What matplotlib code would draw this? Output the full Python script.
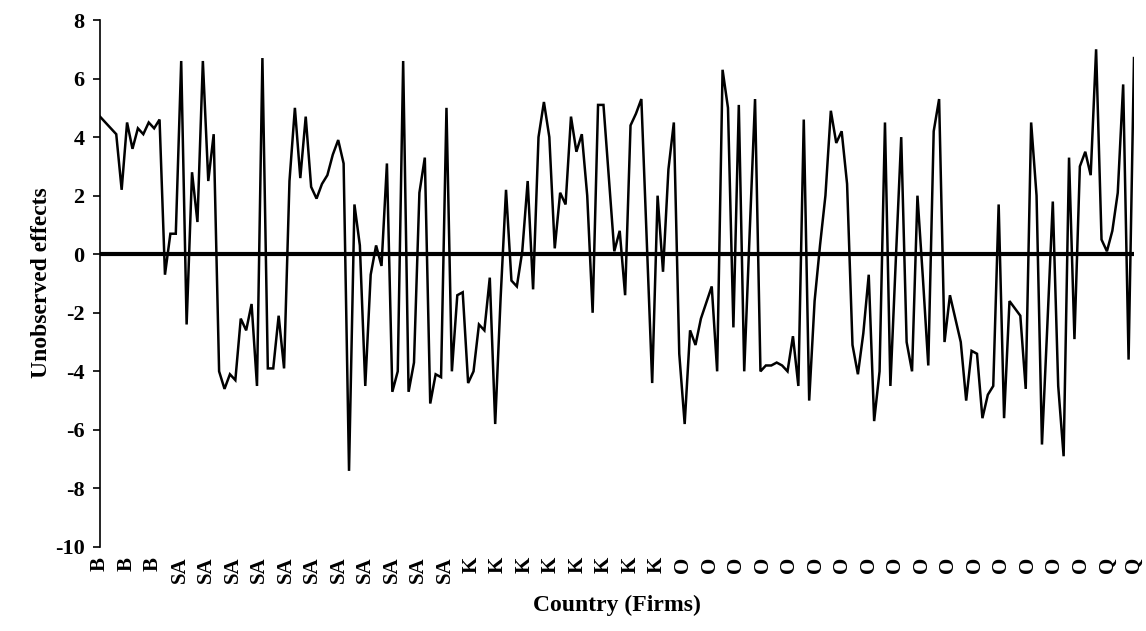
import numpy as np
import matplotlib.pyplot as plt

# unobserved effects per firm (192 firms)
effects = [
    4.7, 4.5, 4.3, 4.1, 2.2, 4.5, 3.6, 4.3, 4.1, 4.5, 4.3, 4.6, -0.7, 0.7, 0.7, 6.6, -2.4, 2.8, 1.1, 6.6,
    2.5, 4.1, -4.0, -4.6, -4.1, -4.3, -2.2, -2.6, -1.7, -4.5, 6.7, -3.9, -3.9, -2.1, -3.9, 2.5, 5.0, 2.6,
    4.7, 2.3, 1.9, 2.4, 2.7, 3.4, 3.9, 3.1, -7.4,
    1.7, 0.3, -4.5, -0.7, 0.3, -0.4, 3.1, -4.7, -4.0, 6.6,
    -4.7, -3.7, 2.1, 3.3, -5.1, -4.1, -4.2, 5.0, -4.0, -1.4, -1.3, -4.4, -4.0, -2.4, -2.6, -0.8, -5.8,
    -1.5, 2.2,
    -0.9, -1.1, 0.1, 2.5, -1.2, 4.0, 5.2, 4.0, 0.2, 2.1, 1.7, 4.7, 3.5, 4.1, 2.0, -2.0, 5.1, 5.1,
    2.6, 0.1, 0.8, -1.4, 4.4, 4.8, 5.3, 0.4,
    -4.4, 2.0, -0.6, 2.9, 4.5, -3.4, -5.8, -2.6, -3.1, -2.2, -1.65,
    -1.1, -4.0, 6.3, 5.0, -2.5, 5.1, -4.0, 0.7,
    5.3, -4.0, -3.8, -3.8, -3.7, -3.8, -4.0, -2.8, -4.5,
    4.6, -5.0, -1.6, 0.3, 2.0, 4.9, 3.8, 4.2, 2.4, -3.1, -4.1, -2.7, -0.7, -5.7, -4.0, 4.5, -4.5,
    -0.2, 4.0, -3.0, -4.0, 2.0, -0.8,
    -3.8, 4.2, 5.3, -3.0, -1.4, -2.2, -3.0, -5.0, -3.3, -3.4, -5.6, -4.8, -4.5,
    1.7, -5.6, -1.6, -1.85, -2.1, -4.6,
    4.5, 2.0, -6.5, -2.4, 1.8, -4.5, -6.9, 3.3, -2.9, 3.0, 3.5, 2.7, 7.0, 0.5, 0.1, 0.8, 2.1, 5.8, -3.6, 6.7,
]

# country labels shown along the category axis (spread over the firms)
country_labels = ["B"] * 3 + ["SA"] * 11 + ["K"] * 8 + ["O"] * 16 + ["Q"] * 2

y_ticks = list(range(-10, 9, 2))

plt.rcParams["font.family"] = ["Liberation Serif", "DejaVu Serif"]
plt.rcParams["font.weight"] = "bold"

fig = plt.figure(figsize=(11.46, 6.31), dpi=100)
ax = fig.add_axes([100 / 1146, 84 / 631, 1034 / 1146, 527 / 631])

x = np.arange(len(effects))
ax.plot(x, effects, color="black", linewidth=1.8, solid_joinstyle="miter")
ax.axhline(0, color="black", linewidth=3.0)

ax.set_xlim(0, len(effects) - 1)
ax.set_ylim(-10, 8)
ax.set_yticks(y_ticks)
ax.set_yticklabels([str(t) for t in y_ticks], fontsize=16, fontweight="bold")

tick_pos = np.linspace(0, len(effects) - 1, len(country_labels))
ax.set_xticks(tick_pos)
ax.set_xticklabels(country_labels, rotation=90, fontsize=15, fontweight="bold")
ax.tick_params(axis="x", length=0, pad=7)
ax.tick_params(axis="y", length=5, width=1.2, direction="out", pad=6)

for side in ("top", "right", "bottom"):
    ax.spines[side].set_visible(False)
ax.spines["left"].set_linewidth(1.2)

fig.text(42 / 1146, 1 - 283 / 631, "Unobserved effects", rotation=90,
         ha="center", va="center", fontsize=17, fontweight="bold")
fig.text(617 / 1146, 1 - 605 / 631, "Country (Firms)",
         ha="center", va="center", fontsize=17, fontweight="bold")

fig.savefig("out.png", dpi=100)
plt.close(fig)
